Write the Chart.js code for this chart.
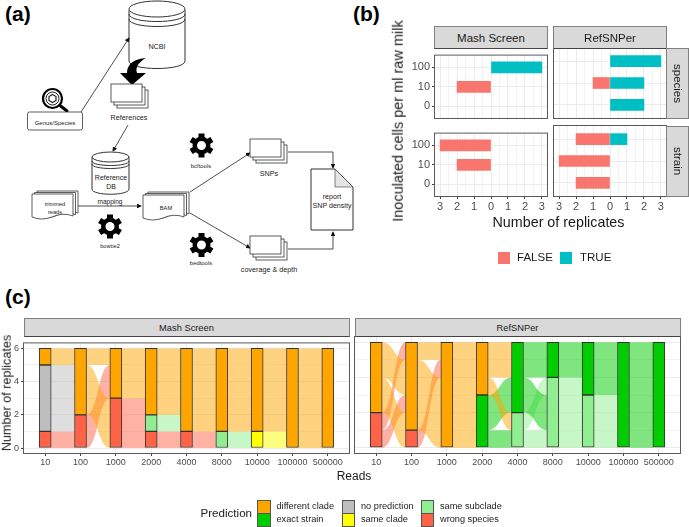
<!DOCTYPE html>
<html>
<head>
<meta charset="utf-8">
<title>RefSNPer figure</title>
<script src="https://cdn.jsdelivr.net/npm/chart.js@4"></script>
<style>
    html, body { margin: 0; padding: 0; background: #fff; }
    body { position: relative; width: 689px; height: 527px; overflow: hidden; font-family: "Liberation Sans", Arial, sans-serif; color: #000; }
    canvas { position: absolute; }
    #diagram { position: absolute; left: 0; top: 0; }
    #diagram text { font-family: "Liberation Sans", Arial, sans-serif; fill: #222; text-anchor: middle; }
    .label { position: absolute; white-space: nowrap; line-height: 1; }
    .tag { font-weight: bold; font-size: 21px; }
    .strip { position: absolute; box-sizing: border-box; background: #d9d9d9; border: 1px solid #808080; color: #1a1a1a; display: flex; align-items: center; justify-content: center; }
    .key { position: absolute; box-sizing: border-box; }
</style>
</head>
<body>
<svg id="diagram" width="370" height="290" viewBox="0 0 370 290">
    <defs>
        <marker id="head" markerWidth="6" markerHeight="6" refX="5" refY="3" orient="auto"><path d="M0,0 L6,3 L0,6 z" fill="#111"/></marker>
        <g id="gear">
            <circle r="6.75" fill="none" stroke="#000" stroke-width="4.5"/>
            <rect x="-3" y="-12" width="6" height="5" transform="rotate(0)"/>
            <rect x="-3" y="-12" width="6" height="5" transform="rotate(60)"/>
            <rect x="-3" y="-12" width="6" height="5" transform="rotate(120)"/>
            <rect x="-3" y="-12" width="6" height="5" transform="rotate(180)"/>
            <rect x="-3" y="-12" width="6" height="5" transform="rotate(240)"/>
            <rect x="-3" y="-12" width="6" height="5" transform="rotate(300)"/>
        </g>
        <g id="stack">
            <rect x="6" y="6" width="31" height="18" fill="#fff" stroke="#333" stroke-width="0.8"/>
            <rect x="3" y="3" width="31" height="18" fill="#fff" stroke="#333" stroke-width="0.8"/>
            <rect x="0" y="0" width="31" height="18" fill="#fff" stroke="#333" stroke-width="0.8"/>
        </g>
        <g id="wave">
            <path d="M5,-3 H46 V19 Q36,15 25,20 Q14,24 5,20 z" fill="#fff" stroke="#333" stroke-width="0.8"/>
            <path d="M2.5,-1.5 H43.5 V20.5 Q33,17 23,22 Q12,26 2.5,22 z" fill="#fff" stroke="#333" stroke-width="0.8"/>
            <path d="M0,0 H41 V22 Q31,18 20,23 Q9,27 0,23 z" fill="#fff" stroke="#333" stroke-width="0.8"/>
        </g>
    </defs>
    <!-- NCBI -->
    <path d="M129,10 V61 C129,71 185,71 185,61 V10" fill="#fff" stroke="#333"/>
    <ellipse cx="157" cy="9" rx="28" ry="8" fill="#fff" stroke="#333"/>
    <path d="M129,14 C129,24 185,24 185,14 M129,19 C129,29 185,29 185,19" fill="none" stroke="#333"/>
    <text x="157" y="49" font-size="7.2">NCBI</text>
    <!-- download arrow -->
    <path d="M146,58 C134,59 127,64 127,73 L120,73 L132,85 L146,73 L137,73 C135,67 139,62 146,58 z" fill="#000"/>
    <use href="#stack" x="111" y="84"/>
    <text x="129" y="120" font-size="7.2">References</text>
    <!-- magnifier -->
    <circle cx="52.5" cy="98.5" r="9.5" fill="#fff" stroke="#000" stroke-width="2.2"/>
    <circle cx="52.5" cy="98.5" r="6.5" fill="none" stroke="#222" stroke-width="1"/>
    <path d="M52.5,94.5 L56,96.5 V100.5 L52.5,102.5 L49,100.5 V96.5 z" fill="none" stroke="#222" stroke-width="1.2"/>
    <path d="M60,105.5 L67,111" stroke="#000" stroke-width="3" stroke-linecap="round"/>
    <rect x="27.5" y="112" width="55" height="18" rx="2" fill="#fff" stroke="#333" stroke-width="0.8"/>
    <text x="55" y="125" font-size="6">Genus/Species</text>
    <path d="M81,112 L129,38" stroke="#222" stroke-width="0.8" marker-end="url(#head)" fill="none"/>
    <path d="M128,125 L113,151" stroke="#222" stroke-width="0.8" marker-end="url(#head)" fill="none"/>
    <!-- Reference DB -->
    <path d="M92,157 V189 C92,196 129,196 129,189 V157" fill="#fff" stroke="#333"/>
    <ellipse cx="110.5" cy="157" rx="18.5" ry="5" fill="#fff" stroke="#333"/>
    <path d="M92,161 C92,167 129,167 129,161 M92,164 C92,170 129,170 129,164" fill="none" stroke="#333"/>
    <text x="111" y="180" font-size="7">Reference</text>
    <text x="111" y="189" font-size="7">DB</text>
    <!-- mapping -->
    <use href="#wave" x="32" y="194"/>
    <text x="55" y="206" font-size="5.7">trimmed</text>
    <text x="55" y="213.5" font-size="5.7">reads</text>
    <path d="M78,206 L141,206" stroke="#222" stroke-width="0.8" marker-end="url(#head)" fill="none"/>
    <text x="110" y="203.5" font-size="6.5">mapping</text>
    <use href="#gear" x="110" y="226.5"/>
    <text x="110" y="247.5" font-size="5.7">bowtie2</text>
    <use href="#wave" x="143" y="195"/>
    <text x="166" y="209.5" font-size="5.7">BAM</text>
    <use href="#gear" x="201.5" y="145.5"/>
    <text x="201" y="168" font-size="5.9">bcftools</text>
    <use href="#gear" x="201.5" y="245"/>
    <text x="201" y="265" font-size="5.9">bedtools</text>
    <path d="M190,192 L250,153" stroke="#222" stroke-width="0.8" marker-end="url(#head)" fill="none"/>
    <path d="M190,213 L250,248" stroke="#222" stroke-width="0.8" marker-end="url(#head)" fill="none"/>
    <use href="#stack" x="250" y="139"/>
    <text x="269" y="176" font-size="7.2">SNPs</text>
    <use href="#stack" x="250" y="236"/>
    <text x="269" y="272" font-size="7.2">coverage &amp; depth</text>
    <path d="M288,152 H333 V168" stroke="#222" stroke-width="0.8" marker-end="url(#head)" fill="none"/>
    <path d="M288,249 H333 V232" stroke="#222" stroke-width="0.8" marker-end="url(#head)" fill="none"/>
    <!-- report -->
    <path d="M311,169 H335 L353,187 V230 H311 z" fill="#fff" stroke="#333"/>
    <path d="M335,169 V187 H353 z" fill="#e4e4e4" stroke="#333" stroke-width="0.6"/>
    <text x="332" y="199" font-size="7.1">report</text>
    <text x="332" y="208" font-size="7.1">SNP density</text>
</svg>

<script>
// panel (b)
const cellLevels = ['0', '10', '100'];
const mashSpeciesFalse = [0, 2, 0];
const mashSpeciesTrue = [0, 0, 3];
const mashStrainFalse = [0, 2, 3];
const mashStrainTrue = [0, 0, 0];
const refSpeciesFalse = [0, 1, 0];
const refSpeciesTrue = [2, 2, 3];
const refStrainFalse = [2, 3, 2];
const refStrainTrue = [0, 0, 1];

// panel (c)
const readCounts = ['10', '100', '1000', '2000', '4000', '8000', '10000', '100000', '500000'];
const predictions = ['wrong species', 'same subclade', 'same clade', 'no prediction', 'exact strain', 'different clade'];

const mashWrongSpecies = [1, 2, 3, 1, 1, 0, 0, 0, 0];
const mashSameSubclade = [0, 0, 0, 1, 0, 1, 0, 0, 0];
const mashSameClade = [0, 0, 0, 0, 0, 0, 1, 0, 0];
const mashNoPrediction = [4, 0, 0, 0, 0, 0, 0, 0, 0];
const mashExactStrain = [0, 0, 0, 0, 0, 0, 0, 0, 0];
const mashDifferentClade = [1, 4, 3, 4, 5, 5, 5, 6, 6];

const refWrongSpecies = [2, 1, 0, 0, 0, 0, 0, 0, 0];
const refSameSubclade = [0, 0, 0, 0, 2, 4, 3, 0, 0];
const refSameClade = [0, 0, 0, 0, 0, 0, 0, 0, 0];
const refNoPrediction = [0, 0, 0, 0, 0, 0, 0, 0, 0];
const refExactStrain = [0, 0, 0, 3, 4, 2, 3, 6, 6];
const refDifferentClade = [4, 5, 6, 3, 0, 0, 0, 0, 0];

// flows between neighbouring read counts: [replicate level on the left, on the right, replicates]
const mashFlows = [
    [[0, 0, 1], [1, 1, 4], [5, 5, 1]],
    [[0, 3, 2], [2, 0, 3], [5, 5, 1]],
    [[0, 0, 3], [3, 3, 3]],
    [[0, 0, 1], [1, 1, 1], [2, 2, 4]],
    [[0, 0, 1], [1, 1, 5]],
    [[0, 0, 1], [1, 1, 5]],
    [[0, 0, 1], [1, 1, 5]],
    [[0, 0, 6]]
];
const refFlows = [
    [[0, 2, 1], [1, 5, 1], [2, 0, 2], [4, 3, 2]],
    [[0, 4, 1], [1, 0, 4], [5, 5, 1]],
    [[0, 0, 6]],
    [[0, 0, 1], [1, 2, 2], [3, 1, 1], [4, 4, 2]],
    [[0, 0, 1], [1, 3, 1], [2, 1, 2], [4, 4, 2]],
    [[0, 0, 4], [4, 4, 2]],
    [[0, 0, 3], [3, 3, 3]],
    [[0, 0, 6]]
];

const predictionColors = {
    'wrong species': '#FF6347',
    'same subclade': '#90EE90',
    'same clade': '#FFFF00',
    'no prediction': '#BEBEBE',
    'exact strain': '#00CC00',
    'different clade': '#FFA500'
};

const fontFamily = '"Liberation Sans", Arial, sans-serif';
const marginLeft = 30, marginBottom = 22, marginEnd = 1;

const panelBorder = {
    id: 'panelBorder',
    afterDraw(chart) {
        const a = chart.chartArea, ctx = chart.ctx;
        ctx.save();
        ctx.strokeStyle = '#5a5a5a';
        ctx.lineWidth = 1;
        ctx.strokeRect(a.left - 0.5, a.top - 0.5, a.width + 1, a.height + 1);
        ctx.restore();
    }
};

function flowPlugin(flows, strata) {
    return {
        id: 'flows',
        beforeDatasetsDraw(chart) {
            const ctx = chart.ctx, xs = chart.scales.x, ys = chart.scales.y;
            const half = (xs.getPixelForValue(2) - xs.getPixelForValue(1)) / 6;
            ctx.save();
            ctx.globalAlpha = 0.5;
            flows.forEach((gap, i) => {
                const x0 = xs.getPixelForValue(i + 1) + half;
                const x1 = xs.getPixelForValue(i + 2) - half;
                const xm = (x0 + x1) / 2;
                gap.forEach(([from, to, n]) => {
                    let base = 0, color = '#000';
                    strata.forEach(s => {
                        if (from >= base && from < base + s.values[i]) color = predictionColors[s.name];
                        base += s.values[i];
                    });
                    ctx.fillStyle = color;
                    ctx.beginPath();
                    ctx.moveTo(x0, ys.getPixelForValue(from));
                    ctx.bezierCurveTo(xm, ys.getPixelForValue(from), xm, ys.getPixelForValue(to), x1, ys.getPixelForValue(to));
                    ctx.lineTo(x1, ys.getPixelForValue(to + n));
                    ctx.bezierCurveTo(xm, ys.getPixelForValue(to + n), xm, ys.getPixelForValue(from + n), x0, ys.getPixelForValue(from + n));
                    ctx.closePath();
                    ctx.fill();
                });
            });
            ctx.restore();
        }
    };
}

function addPanel(left, top, width, height, config) {
    const canvas = document.createElement('canvas');
    canvas.width = width + marginLeft + marginEnd;
    canvas.height = height + marginBottom + marginEnd;
    canvas.style.left = (left - marginLeft) + 'px';
    canvas.style.top = (top - marginEnd) + 'px';
    document.body.appendChild(canvas);
    config.options.responsive = false;
    config.options.animation = false;
    config.options.events = [];
    config.options.layout = { padding: { top: marginEnd, right: marginEnd } };
    config.options.plugins = { legend: { display: false }, tooltip: { enabled: false } };
    config.options.scales.x.afterFit = s => { s.height = marginBottom; };
    config.options.scales.y.afterFit = s => { s.width = marginLeft; };
    config.plugins = (config.plugins || []).concat(panelBorder);
    return new Chart(canvas, config);
}

function addText(text, x, y, size, opts = {}) {
    const el = document.createElement('div');
    el.className = 'label ' + (opts.cls || '');
    el.textContent = text;
    el.style.left = x + 'px';
    el.style.top = y + 'px';
    el.style.fontSize = size + 'px';
    if (opts.color) el.style.color = opts.color;
    el.style.transform = opts.transform || 'translate(-50%, -50%)';
    document.body.appendChild(el);
}

function addStrip(text, left, top, width, height, size, vertical) {
    const el = document.createElement('div');
    el.className = 'strip';
    el.textContent = text;
    el.style.cssText = `left:${left}px;top:${top}px;width:${width}px;height:${height}px;font-size:${size}px;` + (vertical ? 'writing-mode:vertical-rl;' : 'border-bottom-color:#444;');
    document.body.appendChild(el);
}

function addKey(left, top, size, color, border) {
    const el = document.createElement('div');
    el.className = 'key';
    el.style.cssText = `left:${left}px;top:${top}px;width:${size}px;height:${size}px;background:${color};` + (border ? `border:1.5px solid ${border};` : '');
    document.body.appendChild(el);
}

function gridColor(ctx) {
    return Number.isInteger(ctx.tick.value) ? '#ebebeb' : '#f3f3f3';
}

function replicatePanel(left, top, falseValues, trueValues, showX, showY) {
    addPanel(left, top, 112, 70, {
        type: 'bar',
        data: {
            datasets: [
                { label: 'FALSE', backgroundColor: '#F8766D', barThickness: 11, data: falseValues.map((v, i) => ({ x: -v, y: i + 1 })).filter(p => p.x !== 0) },
                { label: 'TRUE', backgroundColor: '#00BFC4', barThickness: 11, data: trueValues.map((v, i) => ({ x: v, y: i + 1 })).filter(p => p.x !== 0) }
            ]
        },
        options: {
            indexAxis: 'y',
            scales: {
                x: {
                    type: 'linear', min: -3.3, max: 3.3, stacked: true, border: { display: false },
                    grid: { color: gridColor, tickLength: 3, drawTicks: showX, tickColor: c => Number.isInteger(c.tick.value) ? '#444' : 'transparent' },
                    ticks: { display: showX, stepSize: 0.5, includeBounds: false, autoSkip: false, maxRotation: 0, padding: 1, color: '#4d4d4d', font: { family: fontFamily, size: 11 },
                        callback: v => Number.isInteger(v) ? String(Math.abs(v)) : '' }
                },
                y: {
                    type: 'linear', min: 0.4, max: 3.6, stacked: true, offset: false, border: { display: false },
                    grid: { offset: false, color: '#ebebeb', tickLength: 3, drawTicks: showY, tickColor: '#444' },
                    ticks: { display: showY, stepSize: 1, includeBounds: false, autoSkip: false, padding: 2, color: '#4d4d4d', font: { family: fontFamily, size: 11 },
                        callback: v => cellLevels[v - 1] }
                }
            }
        }
    });
}

function alluvialPanel(left, top, strata, flows, showY) {
    addPanel(left, top, 325, 116, {
        type: 'bar',
        data: {
            datasets: strata.map(s => ({
                label: s.name,
                backgroundColor: predictionColors[s.name],
                borderColor: '#333',
                borderWidth: 1,
                borderSkipped: false,
                barThickness: 12,
                data: s.values.map((v, i) => ({ x: i + 1, y: v })).filter(p => p.y !== 0)
            }))
        },
        options: {
            scales: {
                x: {
                    type: 'linear', min: 0.4, max: 9.6, stacked: true, offset: false, border: { display: false },
                    grid: { offset: false, color: '#ebebeb', tickLength: 3, tickColor: '#444' },
                    ticks: { stepSize: 1, includeBounds: false, autoSkip: false, maxRotation: 0, padding: 1, color: '#4d4d4d', font: { family: fontFamily, size: 9 },
                        callback: v => readCounts[v - 1] }
                },
                y: {
                    type: 'linear', min: -0.3, max: 6.3, stacked: true, border: { display: false },
                    grid: { color: c => c.tick.value % 2 === 0 ? '#ebebeb' : '#f3f3f3', tickLength: 3, drawTicks: showY, tickColor: c => c.tick.value % 2 === 0 ? '#444' : 'transparent' },
                    ticks: { display: showY, stepSize: 1, includeBounds: false, autoSkip: false, padding: 2, color: '#4d4d4d', font: { family: fontFamily, size: 9 },
                        callback: v => v % 2 === 0 ? String(v) : '' }
                }
            }
        },
        plugins: [flowPlugin(flows, strata)]
    });
}

document.addEventListener('DOMContentLoaded', function() {
    addText('(a)', 5, 3, 21, { cls: 'tag', transform: 'none' });
    addText('(b)', 353, 3, 21, { cls: 'tag', transform: 'none' });
    addText('(c)', 5, 286, 21, { cls: 'tag', transform: 'none' });

    // panel (b)
    replicatePanel(435, 48, mashSpeciesFalse, mashSpeciesTrue, false, true);
    replicatePanel(554, 48, refSpeciesFalse, refSpeciesTrue, false, false);
    replicatePanel(435, 126, mashStrainFalse, mashStrainTrue, true, true);
    replicatePanel(554, 126, refStrainFalse, refStrainTrue, true, false);
    addStrip('Mash Screen', 434, 26, 114, 23, 11.5);
    addStrip('RefSNPer', 553, 26, 114, 23, 11.5);
    addStrip('species', 666, 48, 23, 71, 11.5, true);
    addStrip('strain', 666, 126, 23, 71, 11.5, true);
    addText('Inoculated cells per ml raw milk', 398, 121, 14.5, { color: '#1a1a1a', transform: 'translate(-50%, -50%) rotate(-90deg)' });
    addText('Number of replicates', 558.5, 222, 14.3, { color: '#1a1a1a' });
    addKey(498, 252, 11.5, '#F8766D');
    addText('FALSE', 517, 258, 11.5, { transform: 'translate(0, -50%)', color: '#1a1a1a' });
    addKey(560, 252, 11.5, '#00BFC4');
    addText('TRUE', 580, 258, 11.5, { transform: 'translate(0, -50%)', color: '#1a1a1a' });

    // panel (c)
    const mashStrata = [
        { name: predictions[0], values: mashWrongSpecies },
        { name: predictions[1], values: mashSameSubclade },
        { name: predictions[2], values: mashSameClade },
        { name: predictions[3], values: mashNoPrediction },
        { name: predictions[4], values: mashExactStrain },
        { name: predictions[5], values: mashDifferentClade }
    ];
    const refStrata = [
        { name: predictions[0], values: refWrongSpecies },
        { name: predictions[1], values: refSameSubclade },
        { name: predictions[2], values: refSameClade },
        { name: predictions[3], values: refNoPrediction },
        { name: predictions[4], values: refExactStrain },
        { name: predictions[5], values: refDifferentClade }
    ];
    alluvialPanel(24, 337, mashStrata, mashFlows, true);
    alluvialPanel(355, 337, refStrata, refFlows, false);
    addStrip('Mash Screen', 23.5, 318, 326, 19, 9.3);
    addStrip('RefSNPer', 354.5, 318, 326, 19, 9.3);
    addText('Number of replicates', 7, 393, 12.6, { color: '#1a1a1a', transform: 'translate(-50%, -50%) rotate(-90deg)' });
    addText('Reads', 354, 476, 12, { color: '#1a1a1a' });
    addText('Prediction', 200.5, 513, 11.6, { transform: 'translate(0, -50%)', color: '#1a1a1a' });

    const legendCols = [
        [257, 276.5, 'different clade', 'exact strain'],
        [341.5, 361, 'no prediction', 'same clade'],
        [420.5, 440, 'same subclade', 'wrong species']
    ];
    legendCols.forEach(([keyX, textX, upper, lower]) => {
        addKey(keyX, 500, 13.5, predictionColors[upper], '#555');
        addKey(keyX, 513, 13.5, predictionColors[lower], '#555');
        addText(upper, textX, 506.5, 9.2, { transform: 'translate(0, -50%)', color: '#1a1a1a' });
        addText(lower, textX, 520, 9.2, { transform: 'translate(0, -50%)', color: '#1a1a1a' });
    });
});
</script>
</body>
</html>
